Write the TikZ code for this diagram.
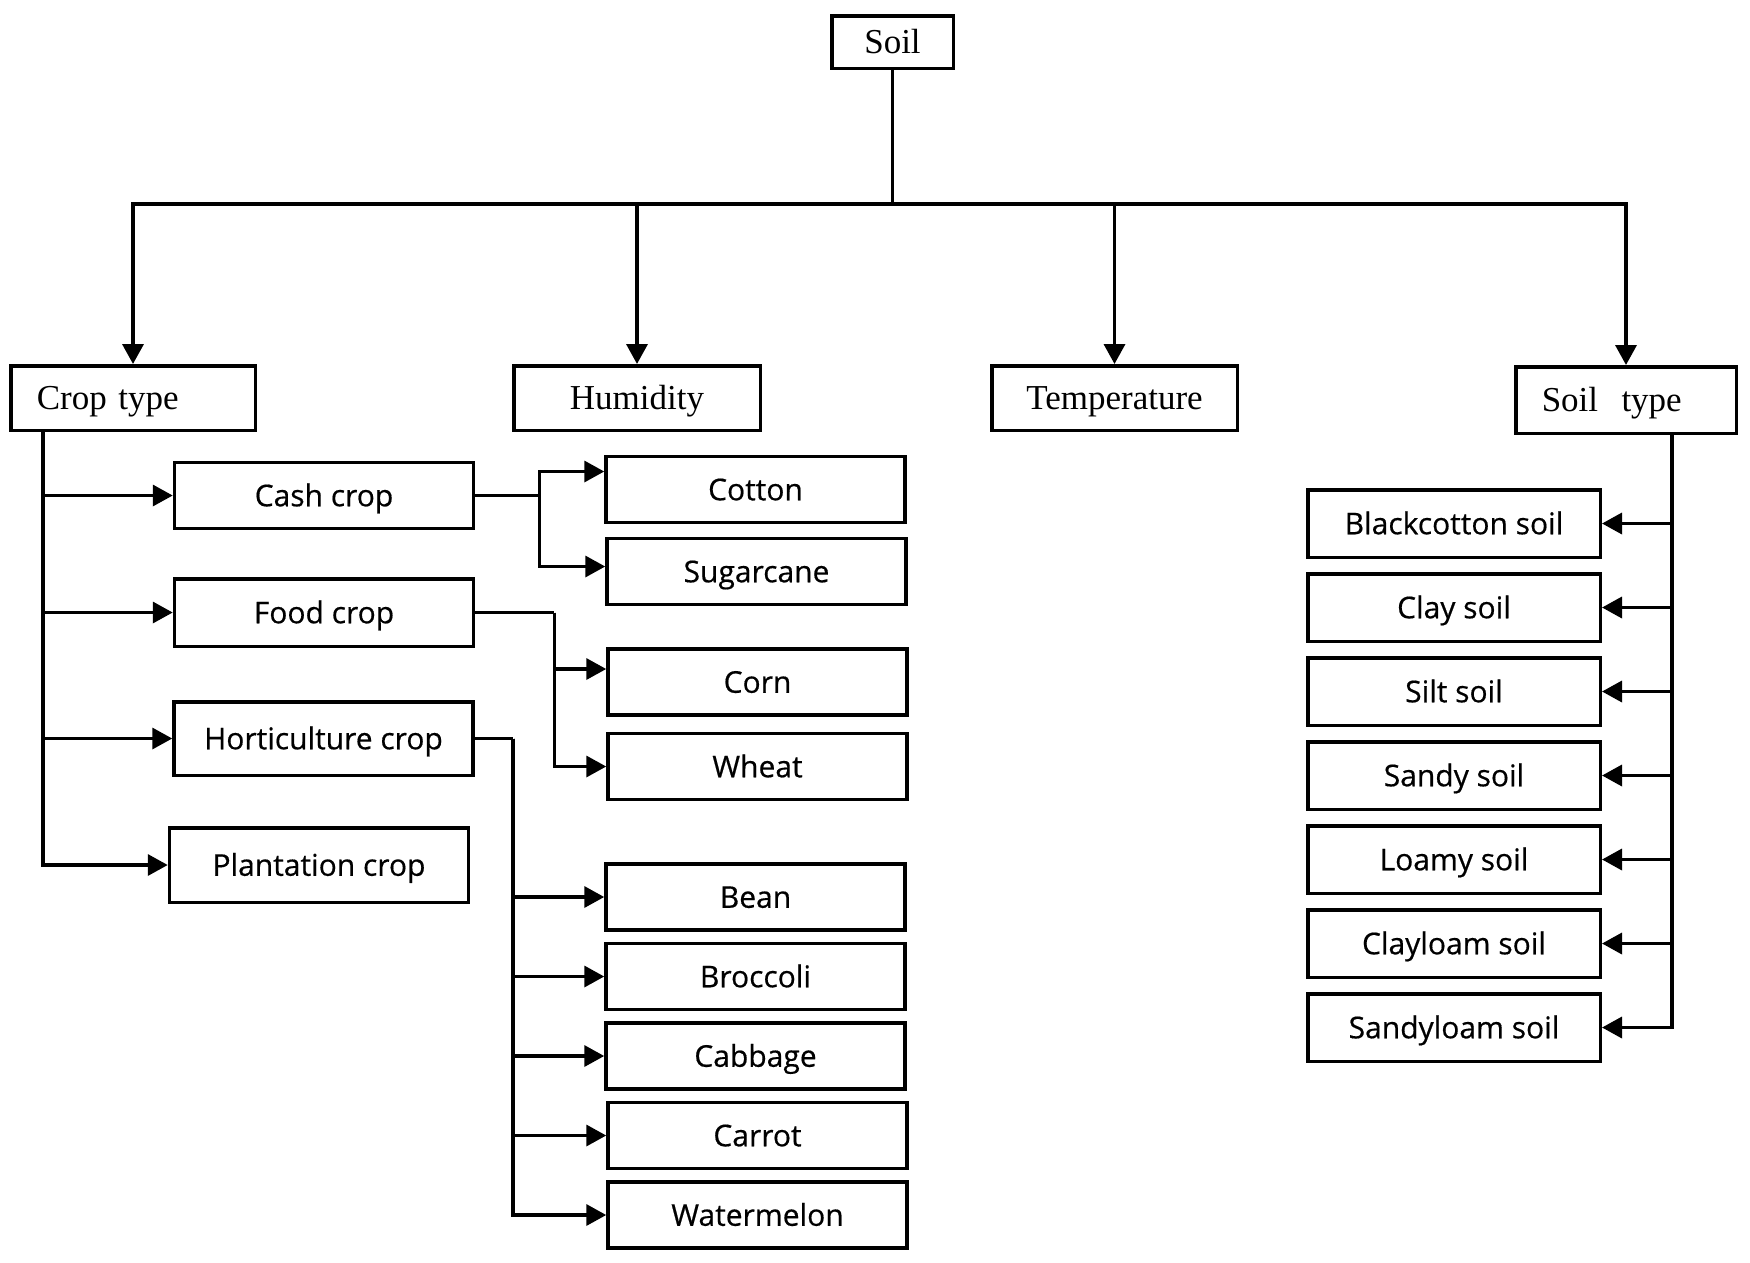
\documentclass[tikz,border=0pt]{standalone}
\usepackage{fontspec}
\setmainfont{Liberation Serif}
\newfontfamily\itemfamily[FakeBold=0.5]{Open Sans}
\usepackage{tikz}
\usetikzlibrary{arrows.meta, positioning}
\newcommand{\headfont}{\fontsize{35}{40}\selectfont}
\newcommand{\itemfont}{\itemfamily\fontsize{30}{36}\selectfont}
\tikzstyle{headbox} = [rectangle, draw=black, line width=3.5pt, minimum height=64.5pt, text centered, font=\headfont, text height=23pt, text depth=0pt, inner sep=0pt]
\tikzstyle{groupbox} = [headbox, align=left, inner xsep=26pt]
\tikzstyle{itembox} = [rectangle, draw=black, line width=3.5pt, minimum width=299pt, minimum height=66pt, text centered, font=\itemfont, text height=21.5pt, text depth=0pt, inner sep=0pt]
\tikzstyle{soilbox} = [itembox, minimum width=292.5pt, minimum height=67.5pt]
\tikzstyle{link} = [line width=3.5pt]
\tikzstyle{arrow} = [link, -{Triangle[length=20pt,width=21pt]}]

\begin{document}
\begin{tikzpicture}[x=1pt, y=-1pt]
\useasboundingbox (0,0) rectangle (1750,1262);
% top levels
\node (soil) [headbox, minimum width=121.5pt, minimum height=52.5pt] at (892.5,42) {Soil};
\node (croptype) [groupbox, text width=192.5pt] at (133,398) {Crop type};
\node (humidity) [headbox, minimum width=246.5pt] at (637,398) {Humidity};
\node (temperature) [headbox, minimum width=245.5pt] at (1114.5,398) {Temperature};
\node (soiltype) [groupbox, text width=168.5pt, minimum height=66.5pt] at (1626,400) {Soil\ \ type};
% crop groups
\node (cash) [itembox] at (324,495.5) {Cash crop};
\node (food) [itembox, minimum height=67.5pt] at (324,612.5) {Food crop};
\node (horti) [itembox, minimum height=73.5pt] at (323.5,738.5) {Horticulture crop};
\node (plant) [itembox, minimum height=74.5pt] at (319,865) {Plantation crop};
% crops
\node (cotton) [itembox] at (755.5,489.5) {Cotton};
\node (sugarcane) [itembox, node distance=82pt, below of=cotton, xshift=1pt] {Sugarcane};
\node (corn) [itembox] at (757.5,682) {Corn};
\node (wheat) [itembox, node distance=84.5pt, below of=corn] {Wheat};
\node (bean) [itembox] at (755.5,897) {Bean};
\node (broccoli) [itembox, node distance=79.5pt, below of=bean] {Broccoli};
\node (cabbage) [itembox, node distance=79.5pt, below of=broccoli] {Cabbage};
\node (carrot) [itembox, node distance=79.5pt, below of=cabbage, xshift=2pt] {Carrot};
\node (watermelon) [itembox, node distance=79.5pt, below of=carrot] {Watermelon};
% soil types
\node (blackcotton) [soilbox] at (1454,523.5) {Blackcotton soil};
\node (clay) [soilbox, node distance=84pt, below of=blackcotton] {Clay soil};
\node (silt) [soilbox, node distance=84pt, below of=clay] {Silt soil};
\node (sandy) [soilbox, node distance=84pt, below of=silt] {Sandy soil};
\node (loamy) [soilbox, node distance=84pt, below of=sandy] {Loamy soil};
\node (clayloam) [soilbox, node distance=84pt, below of=loamy] {Clayloam soil};
\node (sandyloam) [soilbox, node distance=84pt, below of=clayloam] {Sandyloam soil};
% connectors
\draw [link] (soil.south) -- ++(0,134) coordinate (bus);
\draw [arrow] (bus) -| (croptype.north);
\draw [arrow] (bus) -| (humidity.north);
\draw [arrow] (bus) -| (temperature.north);
\draw [arrow] (bus) -| (soiltype.north);
\coordinate (cropspine) at ([xshift=34pt]croptype.south west);
\draw [arrow] (cropspine) |- (cash.west);
\draw [arrow] (cropspine) |- (food.west);
\draw [arrow] (cropspine) |- (horti.west);
\draw [arrow] (cropspine) |- (plant.west);
\draw [link] (cash.east) -- ++(64,0) coordinate (cashfork);
\draw [arrow] (cashfork) |- ([yshift=18pt]cotton.west);
\draw [arrow] (cashfork) |- ([yshift=5pt]sugarcane.west);
\draw [link] (food.east) -- ++(79,0) coordinate (foodfork);
\draw [arrow] (foodfork) |- ([yshift=13pt]corn.west);
\draw [arrow] (foodfork) |- (wheat.west);
\draw [link] (horti.east) -- ++(38,0) coordinate (hortifork);
\draw [arrow] (hortifork) |- (bean.west);
\draw [arrow] (hortifork) |- (broccoli.west);
\draw [arrow] (hortifork) |- (cabbage.west);
\draw [arrow] (hortifork) |- (carrot.west);
\draw [arrow] (hortifork) |- (watermelon.west);
\coordinate (soilspine) at ([xshift=46pt]soiltype.south);
\draw [arrow] (soilspine) |- (blackcotton.east);
\draw [arrow] (soilspine) |- (clay.east);
\draw [arrow] (soilspine) |- (silt.east);
\draw [arrow] (soilspine) |- (sandy.east);
\draw [arrow] (soilspine) |- (loamy.east);
\draw [arrow] (soilspine) |- (clayloam.east);
\draw [arrow] (soilspine) |- (sandyloam.east);
\end{tikzpicture}
\end{document}
